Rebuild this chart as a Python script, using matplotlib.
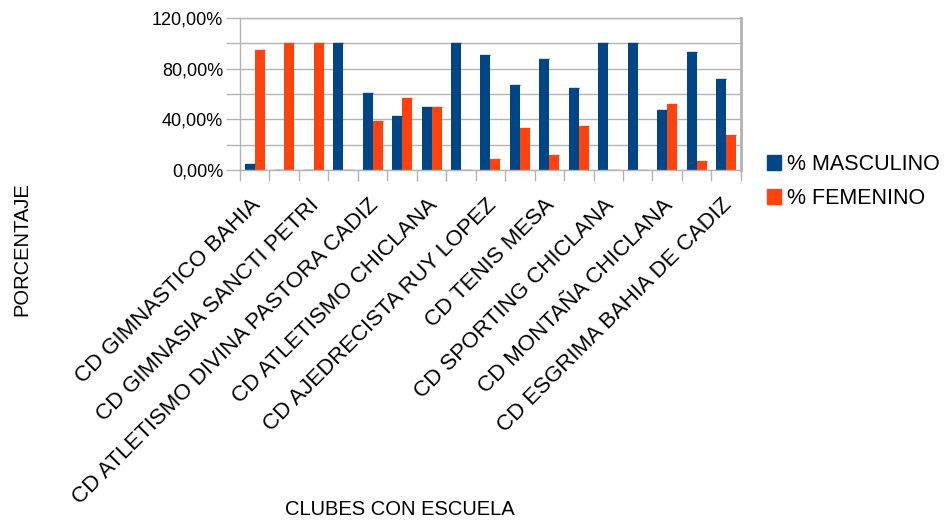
import matplotlib
matplotlib.use("Agg")
import matplotlib.pyplot as plt
import matplotlib.transforms as mtransforms
import numpy as np
from matplotlib.patches import Patch
from matplotlib.ticker import FixedLocator, FuncFormatter

plt.rcParams['font.family'] = ['Liberation Sans', 'DejaVu Sans']

categories = [
    "CD GIMNASTICO BAHIA", "",
    "CD GIMNASIA SANCTI PETRI", "",
    "CD ATLETISMO DIVINA PASTORA CADIZ", "",
    "CD ATLETISMO CHICLANA", "",
    "CD AJEDRECISTA RUY LOPEZ", "",
    "CD TENIS MESA", "",
    "CD SPORTING CHICLANA", "",
    "CD MONTAÑA CHICLANA", "",
    "CD ESGRIMA BAHIA DE CADIZ",
]
masculino = [5, 0, 0, 100, 61, 43, 50, 100, 91, 67, 88, 65, 100, 100, 47.5, 93, 72]
femenino = [95, 100, 100, 0, 39, 57, 50, 0, 9, 33, 12, 35, 0, 0, 52.5, 7, 28]
series_names = ["% MASCULINO", "% FEMENINO"]
colors = ["#004586", "#ff420e"]

fig = plt.figure(figsize=(9.45, 5.22), dpi=100)
ax = fig.add_axes([0.254, 0.674, 0.53, 0.2915])

x = np.arange(len(categories))
w = 0.34
for vals, off, c in [(masculino, -w / 2, colors[0]), (femenino, w / 2, colors[1])]:
    ax.bar(x + off, vals, width=w, color=c, linewidth=0)
    ax.hlines(vals, x + off - w / 2, x + off + w / 2, color=c, linewidth=1.0)

ax.set_xlim(-0.5, len(categories) - 0.5)
ax.set_ylim(0, 120)

grid_c = "#b3b3b3"
ax.yaxis.set_major_locator(FixedLocator([0, 40, 80, 120]))
ax.yaxis.set_minor_locator(FixedLocator([20, 60, 100]))
ax.yaxis.set_major_formatter(FuncFormatter(lambda v, p: f"{v:.2f}".replace(".", ",") + "%"))
ax.grid(axis='y', which='both', color=grid_c, linewidth=1.0)
ax.set_axisbelow(True)
ax.tick_params(axis='y', which='both', length=10, color=grid_c, width=1.0, labelsize=13, pad=2)

ax.set_xticks(x)
ax.tick_params(axis='x', which='major', length=0, pad=14)
ax.xaxis.set_minor_locator(FixedLocator(np.arange(-0.5, len(categories), 1.0)))
ax.tick_params(axis='x', which='minor', length=8, color=grid_c, width=1.0)
labels = ax.set_xticklabels(categories, rotation=45, ha='right', va='top',
                            rotation_mode='anchor', fontsize=16)
shift = mtransforms.ScaledTranslation(-5 / 100, -5 / 100, fig.dpi_scale_trans)
for lab in labels:
    lab.set_transform(lab.get_transform() + shift)

for s in ['left', 'bottom', 'top', 'right']:
    ax.spines[s].set_color(grid_c)
    ax.spines[s].set_linewidth(1.0)
ax.spines['right'].set_linewidth(2.0)

fig.text(0.023, 0.523, "PORCENTAJE", rotation=90, ha='center', va='center', fontsize=14.5)
fig.text(0.423, 0.023, "CLUBES CON ESCUELA", ha='center', va='center', fontsize=14.5)

handles = [Patch(facecolor=c, edgecolor=c) for c in colors]
fig.legend(handles, series_names, loc='center left', bbox_to_anchor=(0.8115, 0.652),
           frameon=False, fontsize=15.5, handlelength=0.65, handleheight=0.65,
           handletextpad=0.3, labelspacing=0.6, borderaxespad=0, borderpad=0)

fig.savefig("out.png", dpi=100)
